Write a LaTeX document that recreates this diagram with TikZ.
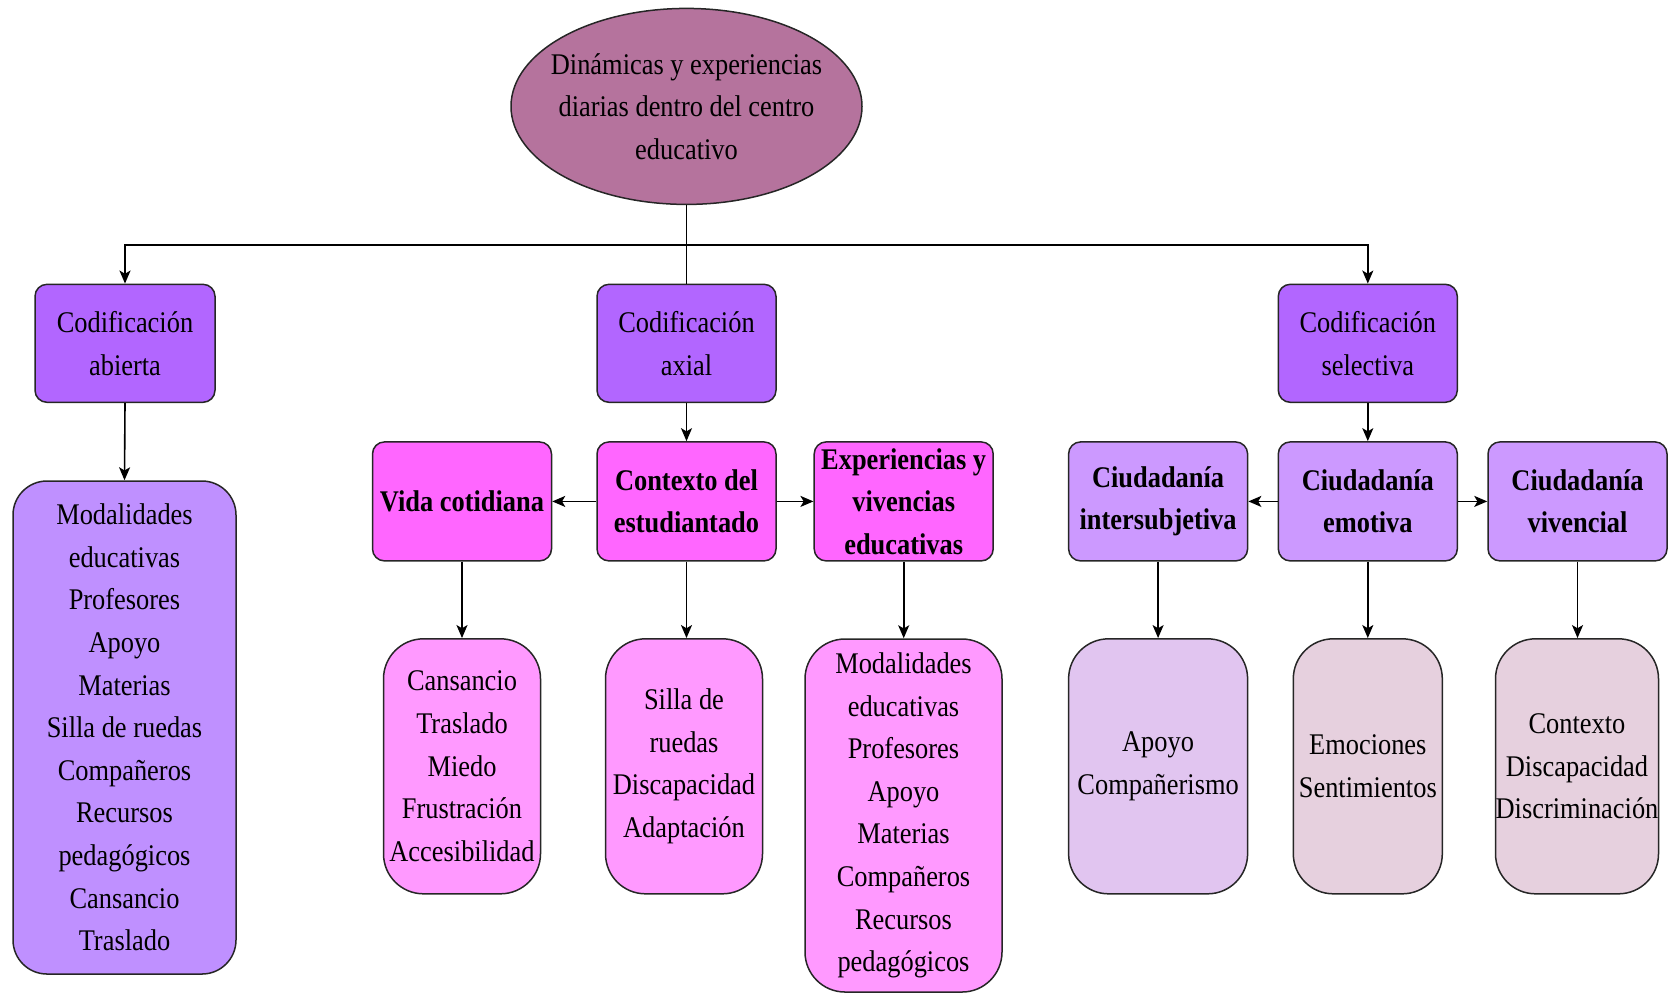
\documentclass[tikz,border=0pt]{standalone}
\usepackage{fontspec}
\setmainfont[FakeStretch=0.88]{Liberation Serif}
\usetikzlibrary{arrows.meta,shapes.geometric}
\definecolor{cRoot}{HTML}{B5739D}
\definecolor{cTop}{HTML}{B266FF}
\definecolor{cPink}{HTML}{FF66FF}
\definecolor{cLPink}{HTML}{FF99FF}
\definecolor{cLilac}{HTML}{CC99FF}
\definecolor{cBig}{HTML}{BF90FF}
\definecolor{cLav}{HTML}{E1C5F0}
\definecolor{cMauve}{HTML}{E6D0DE}
\tikzset{
  sz/.style 2 args={minimum width=#1*0.5pt, minimum height=#2*0.5pt},
  base/.style={draw=black!85, line width=0.75pt, inner sep=0pt, align=center,
    font=\fontsize{15pt}{21.3pt}\selectfont},
  plaintext/.style={inner sep=0pt, align=center, font=\fontsize{15pt}{21.3pt}\selectfont},
  topbox/.style={base, rectangle, rounded corners=6pt, fill=cTop},
  midbox/.style={base, rectangle, rounded corners=6pt, font=\fontsize{15pt}{21.3pt}\selectfont\bfseries},
  leafbox/.style={base, rectangle, rounded corners=20pt},
  conn/.style={line width=0.8pt, draw=black},
  arr/.style={conn, -{Stealth[length=6.5pt, width=5.5pt, inset=1.6pt]}}
}
\begin{document}
\begin{tikzpicture}[x=0.5pt, y=-0.5pt]
\useasboundingbox (0,0) rectangle (1669,993);

\node[base, ellipse, fill=cRoot, sz={351}{196}] (root) at (686.5,106.4) {};
\node[plaintext] (rootlabel) at (root.center)
  {Dinámicas y experiencias\\diarias dentro del centro\\educativo};

\node[topbox, sz={180}{118}] (abierta) at (125,343.3) {Codificación\\abierta};
\node[topbox, sz={179}{118}] (axial) at (686.5,343.3) {Codificación\\axial};
\node[topbox, sz={179}{118}] (selectiva) at (1367.8,343.3) {Codificación\\selectiva};

\node[midbox, fill=cPink, sz={179}{119}] (vida) at (462,501.4) {Vida cotidiana};
\node[midbox, fill=cPink, sz={179}{119}] (contexto) at (686.5,501.4) {Contexto del\\estudiantado};
\node[midbox, fill=cPink, sz={179}{119}] (experiencias) at (903.7,501.4) {Experiencias y\\vivencias\\educativas};
\node[midbox, fill=cLilac, sz={179}{119}] (intersub) at (1158.1,501.4) {Ciudadanía\\intersubjetiva};
\node[midbox, fill=cLilac, sz={179}{119}] (emotiva) at (1367.8,501.4) {Ciudadanía\\emotiva};
\node[midbox, fill=cLilac, sz={179}{119}] (vivencial) at (1577.5,501.4) {Ciudadanía\\vivencial};

\node[base, rectangle, rounded corners=17pt, fill=cBig, sz={223}{493}] (big) at (124.5,727.5)
  {Modalidades\\educativas\\Profesores\\Apoyo\\Materias\\Silla de ruedas\\Compañeros\\Recursos\\pedagógicos\\Cansancio\\Traslado};
\node[leafbox, fill=cLPink, sz={157}{255}] (cansancio) at (462,766.3)
  {Cansancio\\Traslado\\Miedo\\Frustración\\Accesibilidad};
\node[leafbox, fill=cLPink, sz={157}{255}] (silla) at (684,766.3)
  {Silla de\\ruedas\\Discapacidad\\Adaptación};
\node[leafbox, fill=cLPink, sz={197}{353}] (modal) at (903.5,815.5)
  {Modalidades\\educativas\\Profesores\\Apoyo\\Materias\\Compañeros\\Recursos\\pedagógicos};
\node[leafbox, fill=cLav, sz={179}{255}] (apoyo) at (1158.1,766.3)
  {Apoyo\\Compañerismo};
\node[leafbox, fill=cMauve, sz={149}{255}] (emociones) at (1367.8,766.3)
  {Emociones\\Sentimientos};
\node[leafbox, fill=cMauve, sz={163}{255}] (contx) at (1577,766.3)
  {Contexto\\Discapacidad\\Discriminación};

\coordinate (j) at (686.5,244.8);
\draw[conn] (root.south) -- (axial.north);
\draw[arr] (j) -| (abierta.north);
\draw[arr] (j) -| (selectiva.north);

\draw[arr] (abierta.south) -- (big.north);
\draw[arr] (axial.south) -- (contexto.north);
\draw[arr] (selectiva.south) -- (emotiva.north);

\draw[arr] (contexto.west) -- (vida.east);
\draw[arr] (contexto.east) -- (experiencias.west);
\draw[arr] (emotiva.west) -- (intersub.east);
\draw[arr] (emotiva.east) -- (vivencial.west);

\draw[arr] (vida.south) -- (cansancio.north);
\draw[arr] (contexto.south) -- (contexto.south |- silla.north);
\draw[arr] (experiencias.south) -- (experiencias.south |- modal.north);
\draw[arr] (intersub.south) -- (apoyo.north);
\draw[arr] (emotiva.south) -- (emociones.north);
\draw[arr] (vivencial.south) -- (vivencial.south |- contx.north);
\end{tikzpicture}
\end{document}
